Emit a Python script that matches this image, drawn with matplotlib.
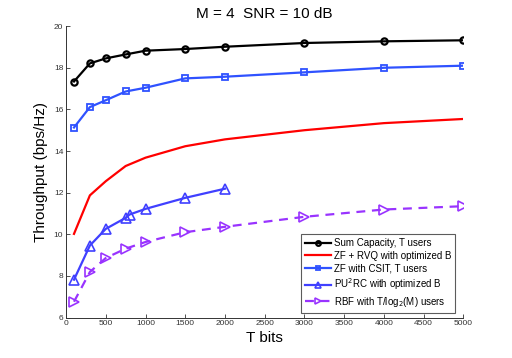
import numpy as np
import matplotlib
matplotlib.use('Agg')
import matplotlib.pyplot as plt

# dados
T = [100, 300, 500, 750, 1000, 1500, 2000, 3000, 4000, 5000]
T_pu2rc = [100, 300, 500, 750, 800, 1000, 1500, 2000]

sum_cap = [17.34, 18.21, 18.45, 18.64, 18.82, 18.90, 19.01, 19.19, 19.27, 19.32]
zf_rvq = [10.02, 11.87, 12.55, 13.28, 13.68, 14.23, 14.56, 15.00, 15.34, 15.54]
zf_csit = [15.13, 16.11, 16.44, 16.86, 17.04, 17.49, 17.57, 17.78, 18.00, 18.10]
pu2rc = [7.82, 9.46, 10.26, 10.79, 10.95, 11.22, 11.75, 12.19]
rbf = [6.76, 8.19, 8.86, 9.31, 9.63, 10.10, 10.36, 10.84, 11.19, 11.35]

plt.rcParams['font.family'] = ['Liberation Sans', 'DejaVu Sans']

fig = plt.figure(figsize=(5.12, 3.58), dpi=100)
ax = fig.add_axes([0.129, 0.113, 0.776, 0.814])

ax.plot(T, sum_cap, '-o', color='black', lw=1.6, ms=4.5, mew=1.6, mfc='none',
        label='Sum Capacity, T users')
ax.plot(T, zf_rvq, '-', color='#ff0000', lw=1.6, label='ZF + RVQ with optimized B')
ax.plot(T, zf_csit, '-s', color='#2f52ff', lw=1.6, ms=4, mew=1.3, mfc='none',
        label='ZF with CSIT, T users')
ax.plot(T_pu2rc, pu2rc, '-^', color='#4040ff', lw=1.6, ms=6.5, mew=1.2, mfc='none',
        label='PU$^2$RC with optimized B')
ax.plot(T, rbf, '--', marker='>', color='#9933ff', lw=1.6, ms=6.5, mew=1.2, mfc='none',
        dashes=(4, 3), label='RBF with T/log$_2$(M) users')

ax.set_xlim(0, 5000)
ax.set_ylim(6, 20)
ax.set_xticks(np.arange(0, 5001, 500))
ax.set_yticks(np.arange(6, 21, 2))
ax.tick_params(direction='in', labelsize=6, length=3, width=0.6, pad=2, colors='#333333')
for s in ['top', 'right']:
    ax.spines[s].set_visible(False)
for s in ['left', 'bottom']:
    ax.spines[s].set_linewidth(0.7)
    ax.spines[s].set_color('#333333')

ax.set_xlabel('T bits', fontsize=11, labelpad=3)
ax.set_ylabel('Throughput (bps/Hz)', fontsize=11, labelpad=4)
ax.set_title('M = 4  SNR = 10 dB', fontsize=11, pad=6)

leg = ax.legend(loc='lower right', fontsize=7, frameon=True, fancybox=False,
                edgecolor='#333333', handlelength=2.7, borderaxespad=0.2,
                labelspacing=0.28, handletextpad=0.3, markerscale=0.75,
                borderpad=0.4, bbox_to_anchor=(0.985, 0.01))
leg.get_frame().set_linewidth(0.8)

fig.savefig('out.png', dpi=100)
